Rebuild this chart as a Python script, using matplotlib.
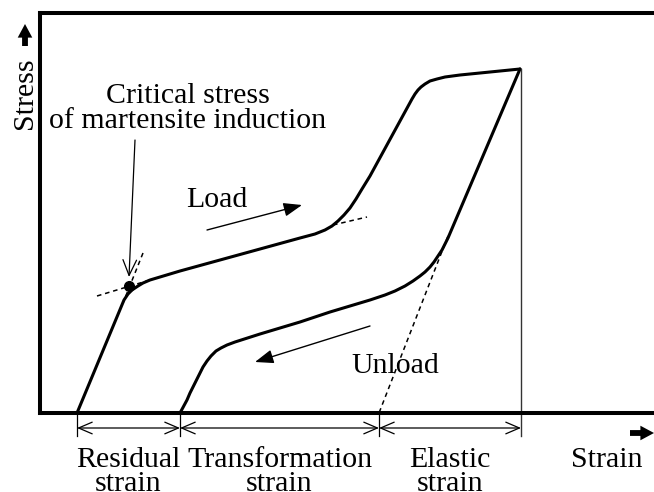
import numpy as np
import matplotlib
matplotlib.use("Agg")
import matplotlib.pyplot as plt

plt.rcParams['font.family'] = ['Liberation Serif', 'DejaVu Serif']

# schematic stress-strain loop (strain, stress in arbitrary units)
load_strain = [37, 84, 86, 88, 90, 92, 95, 98, 103, 110, 140, 180, 220, 260, 275,
               285, 292, 298, 304, 310, 316, 322, 330, 372, 375, 378, 381, 385, 390,
               397, 405, 420, 480]
load_stress = [0, 113, 116, 119, 121, 123, 125, 127, 130, 133, 142, 153, 164, 175, 179,
               183, 187, 192, 198, 205, 214, 224, 237, 314, 319, 323, 326, 329, 332,
               334, 336, 338, 344]

unload_strain = [480, 408, 405, 402, 398, 394, 390, 385, 380, 373, 365, 355, 345, 330,
                 290, 260, 220, 195, 187, 181, 176, 171, 167, 163, 159, 155, 150, 147,
                 140]
unload_stress = [344, 175, 169, 163, 157, 151, 146, 141, 137, 132, 127, 122, 118, 113,
                 101, 91, 79, 71, 68, 65, 62, 57, 52, 46, 38, 30, 20, 13, 0]

# tangent / extension lines (dashed)
elastic_ext = ([408, 339], [177, 0])
steep_tan = ([103, 83], [160, 110])
shallow_tan = ([57, 110], [117, 133])
upper_tan = ([293, 327], [188, 196])

crit_point = (89, 127)

# strain partition
bounds = [37, 140, 339, 481]
part_labels = ["Residual", "Transformation", "Elastic"]

fig = plt.figure(figsize=(6.54, 4.92), dpi=100)
ax = fig.add_axes([40 / 654, 79 / 492, 614 / 654, 400 / 492])
ax.set_xlim(0, 614)
ax.set_ylim(0, 400)
ax.set_xticks([])
ax.set_yticks([])
ax.spines['right'].set_visible(False)
for s in ['left', 'top', 'bottom']:
    ax.spines[s].set_linewidth(2.9)

ax.plot(load_strain, load_stress, color='black', lw=2.2, solid_capstyle='round',
        solid_joinstyle='round')
ax.plot(unload_strain, unload_stress, color='black', lw=2.2, solid_capstyle='round',
        solid_joinstyle='round')

for xs, ys in [elastic_ext, steep_tan, shallow_tan, upper_tan]:
    ax.plot(xs, ys, color='black', lw=1.1, ls=(0, (3, 2.5)))

ax.plot(*crit_point, 'o', color='black', ms=7)

# vertical at max strain
ax.plot([bounds[-1], bounds[-1]], [load_stress[-1], -23], color='#333333', lw=1.0,
        clip_on=False)
for b in bounds[:-1]:
    ax.plot([b, b], [0, -23], color='black', lw=0.9, clip_on=False)

# dimension arrows
for a, b in zip(bounds[:-1], bounds[1:]):
    ax.annotate('', xy=(a, -15), xytext=(b, -15), annotation_clip=False,
                arrowprops=dict(arrowstyle='<->,head_length=0.7,head_width=0.3',
                                lw=0.9, color='black', shrinkA=0, shrinkB=0,
                                mutation_scale=14))

fs = 21.5
centers = [(a + b) / 2 for a, b in zip(bounds[:-1], bounds[1:])]
for cx, lab in zip(centers, part_labels):
    ax.text(cx, -54, lab, ha='center', va='baseline', fontsize=fs, clip_on=False)
    ax.text(cx, -78, "strain", ha='center', va='baseline', fontsize=fs, clip_on=False)

thick = dict(arrowstyle='simple,head_length=0.7,head_width=0.75,tail_width=0.3',
             color='black', lw=0, shrinkA=0, shrinkB=0, mutation_scale=14)

ax.text(567, -54, "Strain", ha='center', va='baseline', fontsize=fs, clip_on=False)
ax.annotate('', xy=(614, -20), xytext=(590, -20), annotation_clip=False,
            arrowprops=thick)

ax.text(-15, 320, "Stress", ha='center', va='center', rotation=90, fontsize=fs,
        clip_on=False)
ax.annotate('', xy=(-15, 389), xytext=(-15, 367), annotation_clip=False,
            arrowprops=thick)

# annotations
ax.text(148, 310, "Critical stress", ha='center', va='baseline', fontsize=fs)
ax.text(148, 285, "of martensite induction", ha='center', va='baseline', fontsize=fs)
ax.annotate('', xy=(89, 136), xytext=(95, 273),
            arrowprops=dict(arrowstyle='->,head_length=0.8,head_width=0.35',
                            lw=0.9, color='black', shrinkA=0, shrinkB=0,
                            mutation_scale=14))

ax.text(177, 206, "Load", ha='center', va='baseline', fontsize=fs)
ax.annotate('', xy=(262, 208), xytext=(167, 183),
            arrowprops=dict(arrowstyle='-|>,head_length=0.8,head_width=0.3',
                            lw=1.0, color='black', shrinkA=0, shrinkB=0,
                            mutation_scale=14))

ax.text(355, 40, "Unload", ha='center', va='baseline', fontsize=fs)
ax.annotate('', xy=(215, 51), xytext=(330, 87),
            arrowprops=dict(arrowstyle='-|>,head_length=0.8,head_width=0.3',
                            lw=1.0, color='black', shrinkA=0, shrinkB=0,
                            mutation_scale=14))

fig.savefig("out.png", dpi=100)
